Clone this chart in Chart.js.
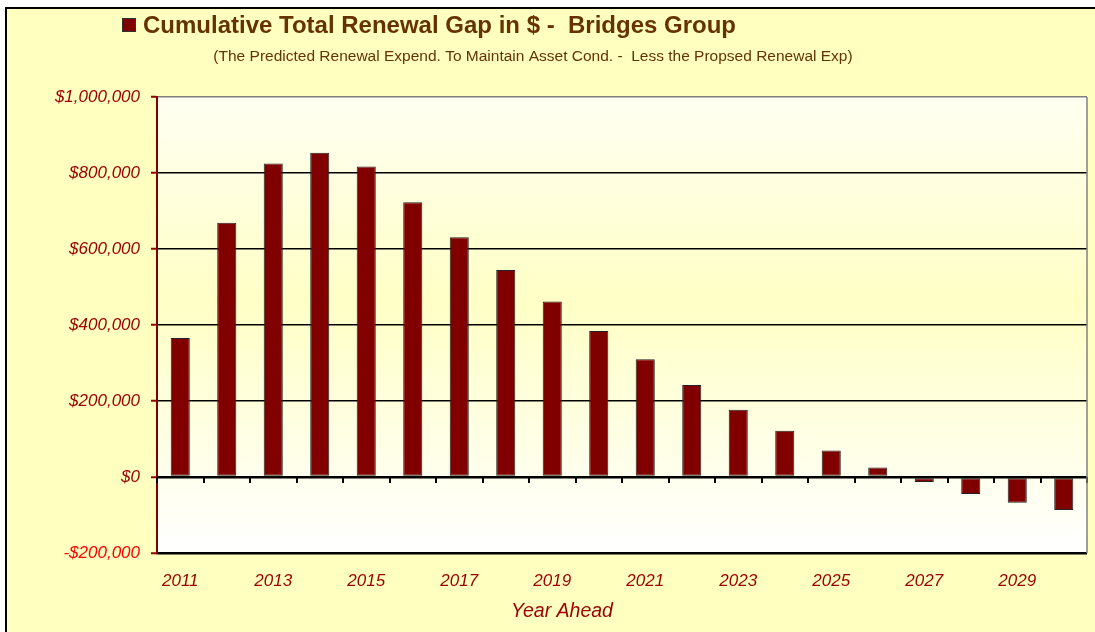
<!DOCTYPE html>
<html>
<head>
<meta charset="utf-8">
<title>Cumulative Total Renewal Gap - Bridges Group</title>
<script src="https://cdn.jsdelivr.net/npm/chart.js@4/dist/chart.umd.min.js"></script>
<style>
    body { margin: 0; background: #ffffff; }
    canvas { display: block; }
</style>
</head>
<body>
<canvas id="graficoGap" width="1095" height="632"></canvas>
<script>
const anos = ['2011', '2012', '2013', '2014', '2015', '2016', '2017', '2018', '2019', '2020',
              '2021', '2022', '2023', '2024', '2025', '2026', '2027', '2028', '2029', '2030'];
const gapAcumulado = [366000, 669000, 825000, 853000, 817000, 723000, 631000, 545000, 462000, 384000,
                      310000, 242000, 177000, 122000, 70000, 25000, -13000, -45000, -68000, -87000];
const titulo = 'Cumulative Total Renewal Gap in $ -  Bridges Group';
const subtitulo = '(The Predicted Renewal Expend. To Maintain Asset Cond. -  Less the Propsed Renewal Exp)';
const tituloEixoX = 'Year Ahead';

const fonte = 'Arial, "Liberation Sans", sans-serif';
const vermelhoEscuro = '#990000';
const marrom = '#663300';

function formatarDolar(v) {
    const s = '$' + Math.abs(v).toLocaleString('en-US');
    return v < 0 ? '-' + s : s;
}

// fundo amarelo, moldura e degradê da área do gráfico
const fundo = {
    id: 'fundo',
    beforeDraw(chart) {
        const c = chart.ctx;
        const a = chart.chartArea;
        c.save();
        c.fillStyle = '#ffffff';
        c.fillRect(0, 0, chart.width, chart.height);
        c.fillStyle = '#ffffc0';
        c.fillRect(6, 8, chart.width - 6, chart.height - 8);
        c.strokeStyle = '#000000';
        c.lineWidth = 2;
        c.beginPath();
        c.moveTo(6, chart.height);
        c.lineTo(6, 8);
        c.lineTo(chart.width, 8);
        c.stroke();

        const grad = c.createLinearGradient(0, a.top, 0, a.bottom);
        grad.addColorStop(0, '#fffff2');
        grad.addColorStop(0.45, '#ffffc6');
        grad.addColorStop(1, '#ffffff');
        c.fillStyle = grad;
        c.fillRect(a.left, a.top, a.right - a.left, a.bottom - a.top);
        c.restore();
    },
    afterDatasetsDraw(chart) {
        const c = chart.ctx;
        const a = chart.chartArea;
        const x = chart.scales.x;
        const y0 = chart.scales.y.getPixelForValue(0);
        c.save();
        // marcas entre as categorias sobre a linha do zero
        c.strokeStyle = '#000000';
        c.lineWidth = 2;
        const passo = x.width / anos.length;
        c.beginPath();
        for (let i = 0; i <= anos.length; i++) {
            const px = Math.round(x.left + i * passo);
            c.moveTo(px, y0);
            c.lineTo(px, y0 + 6);
        }
        c.stroke();
        // borda direita
        c.strokeStyle = '#808080';
        c.lineWidth = 1.5;
        c.beginPath();
        c.moveTo(a.right, a.top);
        c.lineTo(a.right, a.bottom);
        c.stroke();
        c.restore();
    },
    afterDraw(chart) {
        const c = chart.ctx;
        c.save();
        // quadrado da legenda + título
        c.fillStyle = '#800000';
        c.fillRect(122, 18, 14, 14);
        c.strokeStyle = '#333333';
        c.lineWidth = 1;
        c.strokeRect(122.5, 18.5, 13, 13);

        c.fillStyle = marrom;
        c.textBaseline = 'middle';
        c.textAlign = 'left';
        c.font = 'bold 24px ' + fonte;
        c.fillText(titulo, 143, 26);

        c.font = '15.5px ' + fonte;
        c.textAlign = 'center';
        c.fillText(subtitulo, 533, 57);

        c.fillStyle = vermelhoEscuro;
        c.font = 'italic 19.5px ' + fonte;
        c.fillText(tituloEixoX, 562, 612);
        c.restore();
    }
};

const ctx = document.getElementById('graficoGap').getContext('2d');

const graficoGap = new Chart(ctx, {
    type: 'bar',
    data: {
        labels: anos,
        datasets: [{
            label: titulo,
            data: gapAcumulado,
            backgroundColor: '#800000',
            borderColor: '#222222',
            borderWidth: 1,
            borderSkipped: false,
            barPercentage: 0.41,
            categoryPercentage: 1
        }]
    },
    options: {
        responsive: false,
        animation: false,
        layout: {
            padding: { top: 97, right: 8, left: 0, bottom: 0 }
        },
        plugins: {
            legend: { display: false },
            title: { display: false },
            tooltip: { enabled: false }
        },
        scales: {
            x: {
                grid: { display: false, drawTicks: false },
                border: { display: false },
                ticks: {
                    autoSkip: false,
                    maxRotation: 0,
                    padding: 18,
                    color: vermelhoEscuro,
                    font: { family: fonte, size: 17, style: 'italic' },
                    callback: (v, i) => i % 2 === 0 ? anos[i] : ''
                },
                afterFit(scale) { scale.height = 79; }
            },
            y: {
                min: -200000,
                max: 1000000,
                ticks: {
                    stepSize: 200000,
                    padding: 11,
                    color: c => c.tick && c.tick.value < 0 ? '#ff0000' : vermelhoEscuro,
                    font: { family: fonte, size: 17, style: 'italic' },
                    callback: v => formatarDolar(v)
                },
                grid: {
                    color: c => c.tick && c.tick.value === 1000000 ? '#808080' : '#000000',
                    lineWidth: c => c.tick && (c.tick.value === 0 || c.tick.value === -200000) ? 2.5 : 1.5,
                    tickColor: vermelhoEscuro,
                    tickLength: 6,
                    tickWidth: 2
                },
                border: { color: '#800000', width: 2 },
                afterFit(scale) { scale.width = 157; }
            }
        }
    },
    plugins: [fundo]
});
</script>
</body>
</html>
